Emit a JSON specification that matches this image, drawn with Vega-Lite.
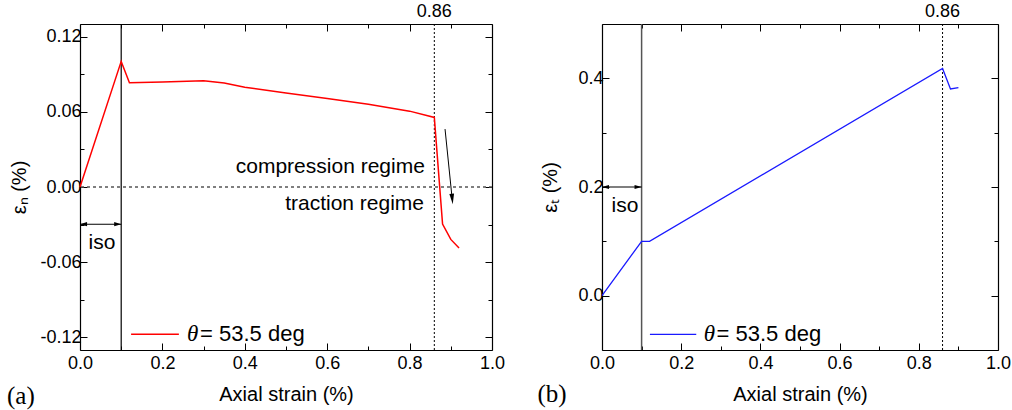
{
  "$schema": "https://vega.github.io/schema/vega-lite/v6.json",
  "padding": {"left": 6, "top": 2, "right": 5, "bottom": 2},
  "bounds": "flush",
  "spacing": 110,
  "config": {
    "view": {"stroke": null},
    "font": "Liberation Sans",
    "axis": {
      "domainColor": "black", "domainWidth": 1.2, "tickColor": "black", "tickWidth": 1,
      "labelFont": "Liberation Sans", "labelFontSize": 18, "labelColor": "black",
      "titleFont": "Liberation Sans", "titleFontSize": 20, "titleFontWeight": "normal", "titleColor": "black",
      "grid": false, "labelFlush": false, "labelOverlap": false, "labelPadding": 6
    }
  },
  "datasets": {
    "series_a": [
      {"x": 0, "y": 0}, {"x": 0.1, "y": 0.1002}, {"x": 0.12, "y": 0.0832}, {"x": 0.2, "y": 0.0838},
      {"x": 0.3, "y": 0.0848}, {"x": 0.35, "y": 0.083}, {"x": 0.4, "y": 0.0795}, {"x": 0.5, "y": 0.075},
      {"x": 0.6, "y": 0.0705}, {"x": 0.7, "y": 0.066}, {"x": 0.8, "y": 0.0605}, {"x": 0.86, "y": 0.0555},
      {"x": 0.88, "y": -0.0295}, {"x": 0.9, "y": -0.0418}, {"x": 0.92, "y": -0.0486}
    ],
    "series_b": [
      {"x": 0, "y": 0}, {"x": 0.1, "y": 0.1}, {"x": 0.12, "y": 0.1}, {"x": 0.86, "y": 0.418},
      {"x": 0.88, "y": 0.3805}, {"x": 0.9, "y": 0.383}
    ]
  },
  "hconcat": [
    {
      "width": 412, "height": 326,
      "resolve": {"axis": {"x": "independent", "y": "independent"}},
      "layer": [
        {
          "data": {"values": [{"x": 0.1}]},
          "mark": {"type": "rule", "color": "black", "strokeWidth": 1.2},
          "encoding": {"x": {"field": "x", "type": "quantitative", "axis": null}}
        },
        {
          "data": {"values": [{"x": 0.86}]},
          "mark": {"type": "rule", "color": "black", "strokeWidth": 1, "strokeDash": [2, 2]},
          "encoding": {"x": {"field": "x", "type": "quantitative", "axis": null}}
        },
        {
          "data": {"values": [{"y": 0}]},
          "mark": {"type": "rule", "color": "#555555", "strokeWidth": 1.3, "strokeDash": [3, 3]},
          "encoding": {"y": {"field": "y", "type": "quantitative", "axis": null}}
        },
        {
          "data": {"name": "series_a"},
          "mark": {"type": "line", "color": "#ff0000", "strokeWidth": 1.5},
          "encoding": {
            "x": {"field": "x", "type": "quantitative", "scale": {"domain": [0, 1], "nice": false, "zero": false},
              "axis": {"orient": "bottom", "title": "Axial strain (%)", "titlePadding": 9, "labelPadding": 11,
                "labelFontSize": 18, "titleFontSize": 20,
                "values": [0, 0.1, 0.2, 0.3, 0.4, 0.5, 0.6, 0.7, 0.8, 0.9, 1],
                "tickSize": {"condition": {"test": "round(datum.value*10) % 2 === 0", "value": -7}, "value": -4},
                "labelExpr": "round(datum.value*10) % 2 === 0 ? format(datum.value, '.1f') : ''"}},
            "y": {"field": "y", "type": "quantitative", "scale": {"domain": [-0.13, 0.13], "nice": false, "zero": false},
              "axis": {"orient": "left", "title": "εₙ (%)", "titlePadding": 10,
                "labelFontSize": 18, "titleFontSize": 20,
                "values": [-0.12, -0.09, -0.06, -0.03, 0, 0.03, 0.06, 0.09, 0.12],
                "tickSize": {"condition": {"test": "round(datum.value*100/3) % 2 === 0", "value": -7}, "value": -4},
                "labelExpr": "round(datum.value*100/3) % 2 === 0 ? replace(format(datum.value, '.2f'), '\u2212', '-') : ''"}}
          }
        },
        {
          "data": {"name": "series_a"},
          "mark": {"type": "line", "opacity": 0},
          "encoding": {
            "x": {"field": "x", "type": "quantitative",
              "axis": {"orient": "top", "title": null, "labels": false,
                "values": [0, 0.1, 0.2, 0.3, 0.4, 0.5, 0.6, 0.7, 0.8, 0.9, 1],
                "tickSize": {"condition": {"test": "round(datum.value*10) % 2 === 0", "value": -7}, "value": -4}}},
            "y": {"field": "y", "type": "quantitative",
              "axis": {"orient": "right", "title": null, "labels": false,
                "values": [-0.12, -0.09, -0.06, -0.03, 0, 0.03, 0.06, 0.09, 0.12],
                "tickSize": {"condition": {"test": "round(datum.value*100/3) % 2 === 0", "value": -7}, "value": -4}}}
          }
        },
        {
          "data": {"values": [{"x": 0, "x2": 0.1, "y": -0.0297}]},
          "mark": {"type": "rule", "color": "black", "strokeWidth": 1.2},
          "encoding": {
            "x": {"field": "x", "type": "quantitative", "axis": null},
            "x2": {"field": "x2"},
            "y": {"field": "y", "type": "quantitative", "axis": null}
          }
        },
        {
          "data": {"values": [{"x": 0.0085, "y": -0.0297, "dir": "left"}, {"x": 0.0915, "y": -0.0297, "dir": "right"}]},
          "mark": {"type": "point", "filled": true, "color": "black", "opacity": 1, "size": 50},
          "encoding": {
            "x": {"field": "x", "type": "quantitative", "axis": null},
            "y": {"field": "y", "type": "quantitative", "axis": null},
            "shape": {"field": "dir", "type": "nominal", "legend": null,
              "scale": {"domain": ["left", "right"], "range": ["M-1,0L1,-0.6L1,0.6Z", "M1,0L-1,-0.6L-1,0.6Z"]}}
          }
        },
        {
          "data": {"values": [{"x": 0.886, "y": 0.0462}, {"x": 0.9035, "y": -0.010}]},
          "mark": {"type": "line", "color": "black", "strokeWidth": 1},
          "encoding": {
            "x": {"field": "x", "type": "quantitative", "axis": null},
            "y": {"field": "y", "type": "quantitative", "axis": null}
          }
        },
        {
          "data": {"values": [{"x": 0.9035, "y": -0.0095}]},
          "mark": {"type": "point", "filled": true, "color": "black", "opacity": 1, "size": 110, "shape": "M0,1L-0.45,-1L0.45,-1Z", "angle": 354.5},
          "encoding": {
            "x": {"field": "x", "type": "quantitative", "axis": null},
            "y": {"field": "y", "type": "quantitative", "axis": null}
          }
        },
        {
          "data": {"values": [{"x": 0.837, "y": 0.016, "t": "compression regime"}, {"x": 0.835, "y": -0.0133, "t": "traction regime"}]},
          "mark": {"type": "text", "align": "right", "baseline": "middle", "font": "Liberation Sans", "fontSize": 21, "color": "black"},
          "encoding": {
            "x": {"field": "x", "type": "quantitative", "axis": null},
            "y": {"field": "y", "type": "quantitative", "axis": null},
            "text": {"field": "t"}
          }
        },
        {
          "data": {"values": [{"x": 0.0534, "y": -0.0444, "t": "iso"}]},
          "mark": {"type": "text", "align": "center", "baseline": "middle", "font": "Liberation Sans", "fontSize": 21, "color": "black"},
          "encoding": {
            "x": {"field": "x", "type": "quantitative", "axis": null},
            "y": {"field": "y", "type": "quantitative", "axis": null},
            "text": {"field": "t"}
          }
        },
        {
          "data": {"values": [{"x": 0.86, "y": 0.1396, "t": "0.86"}]},
          "mark": {"type": "text", "align": "center", "baseline": "middle", "font": "Liberation Sans", "fontSize": 18, "color": "black"},
          "encoding": {
            "x": {"field": "x", "type": "quantitative", "axis": null},
            "y": {"field": "y", "type": "quantitative", "axis": null},
            "text": {"field": "t"}
          }
        },
        {
          "data": {"values": [{"x": -0.1772, "y": -0.1667, "t": "(a)"}]},
          "mark": {"type": "text", "align": "left", "baseline": "middle", "font": "Liberation Serif", "fontSize": 25, "color": "black"},
          "encoding": {
            "x": {"field": "x", "type": "quantitative", "axis": null},
            "y": {"field": "y", "type": "quantitative", "axis": null},
            "text": {"field": "t"}
          }
        },
        {
          "data": {"values": [{"x": 0.124, "y": -0.1175}, {"x": 0.24, "y": -0.1175}]},
          "mark": {"type": "line", "color": "#ff0000", "strokeWidth": 1.5},
          "encoding": {
            "x": {"field": "x", "type": "quantitative", "axis": null},
            "y": {"field": "y", "type": "quantitative", "axis": null}
          }
        },
        {
          "data": {"values": [{"x": 0.2597, "y": -0.1175, "t": "θ"}]},
          "mark": {"type": "text", "align": "left", "baseline": "middle", "font": "Liberation Serif", "fontStyle": "italic", "fontSize": 23, "color": "black"},
          "encoding": {
            "x": {"field": "x", "type": "quantitative", "axis": null},
            "y": {"field": "y", "type": "quantitative", "axis": null},
            "text": {"field": "t"}
          }
        },
        {
          "data": {"values": [{"x": 0.2913, "y": -0.1175, "t": "= 53.5 deg"}]},
          "mark": {"type": "text", "align": "left", "baseline": "middle", "font": "Liberation Sans", "fontSize": 22, "color": "black"},
          "encoding": {
            "x": {"field": "x", "type": "quantitative", "axis": null},
            "y": {"field": "y", "type": "quantitative", "axis": null},
            "text": {"field": "t"}
          }
        }
      ]
    },
    {
      "width": 396, "height": 326,
      "resolve": {"axis": {"x": "independent", "y": "independent"}},
      "layer": [
        {
          "data": {"values": [{"x": 0.1}]},
          "mark": {"type": "rule", "color": "#555555", "strokeWidth": 1.5},
          "encoding": {"x": {"field": "x", "type": "quantitative", "axis": null}}
        },
        {
          "data": {"values": [{"x": 0.86}]},
          "mark": {"type": "rule", "color": "black", "strokeWidth": 1, "strokeDash": [2, 2]},
          "encoding": {"x": {"field": "x", "type": "quantitative", "axis": null}}
        },
        {
          "data": {"name": "series_b"},
          "mark": {"type": "line", "color": "#1a1aff", "strokeWidth": 1.3},
          "encoding": {
            "x": {"field": "x", "type": "quantitative", "scale": {"domain": [0, 1], "nice": false, "zero": false},
              "axis": {"orient": "bottom", "title": "Axial strain (%)", "titlePadding": 9, "labelPadding": 11,
                "labelFontSize": 18, "titleFontSize": 20,
                "values": [0, 0.1, 0.2, 0.3, 0.4, 0.5, 0.6, 0.7, 0.8, 0.9, 1],
                "tickSize": {"condition": {"test": "round(datum.value*10) % 2 === 0", "value": -7}, "value": -4},
                "labelExpr": "round(datum.value*10) % 2 === 0 ? format(datum.value, '.1f') : ''"}},
            "y": {"field": "y", "type": "quantitative", "scale": {"domain": [-0.1, 0.5], "nice": false, "zero": false},
              "axis": {"orient": "left", "title": "εₜ (%)", "titlePadding": 17,
                "labelFontSize": 18, "titleFontSize": 20,
                "values": [0, 0.1, 0.2, 0.3, 0.4],
                "tickSize": {"condition": {"test": "round(datum.value*10) % 2 === 0", "value": -7}, "value": -4},
                "labelExpr": "round(datum.value*10) % 2 === 0 ? format(datum.value, '.1f') : ''"}}
          }
        },
        {
          "data": {"name": "series_b"},
          "mark": {"type": "line", "opacity": 0},
          "encoding": {
            "x": {"field": "x", "type": "quantitative",
              "axis": {"orient": "top", "title": null, "labels": false,
                "values": [0, 0.1, 0.2, 0.3, 0.4, 0.5, 0.6, 0.7, 0.8, 0.9, 1],
                "tickSize": {"condition": {"test": "round(datum.value*10) % 2 === 0", "value": -7}, "value": -4}}},
            "y": {"field": "y", "type": "quantitative",
              "axis": {"orient": "right", "title": null, "labels": false,
                "values": [0, 0.1, 0.2, 0.3, 0.4],
                "tickSize": {"condition": {"test": "round(datum.value*10) % 2 === 0", "value": -7}, "value": -4}}}
          }
        },
        {
          "data": {"values": [{"x": 0, "x2": 0.1, "y": 0.2}]},
          "mark": {"type": "rule", "color": "black", "strokeWidth": 1.2},
          "encoding": {
            "x": {"field": "x", "type": "quantitative", "axis": null},
            "x2": {"field": "x2"},
            "y": {"field": "y", "type": "quantitative", "axis": null}
          }
        },
        {
          "data": {"values": [{"x": 0.0088, "y": 0.2, "dir": "left"}, {"x": 0.0912, "y": 0.2, "dir": "right"}]},
          "mark": {"type": "point", "filled": true, "color": "black", "opacity": 1, "size": 50},
          "encoding": {
            "x": {"field": "x", "type": "quantitative", "axis": null},
            "y": {"field": "y", "type": "quantitative", "axis": null},
            "shape": {"field": "dir", "type": "nominal", "legend": null,
              "scale": {"domain": ["left", "right"], "range": ["M-1,0L1,-0.6L1,0.6Z", "M1,0L-1,-0.6L-1,0.6Z"]}}
          }
        },
        {
          "data": {"values": [{"x": 0.058, "y": 0.165, "t": "iso"}]},
          "mark": {"type": "text", "align": "center", "baseline": "middle", "font": "Liberation Sans", "fontSize": 21, "color": "black"},
          "encoding": {
            "x": {"field": "x", "type": "quantitative", "axis": null},
            "y": {"field": "y", "type": "quantitative", "axis": null},
            "text": {"field": "t"}
          }
        },
        {
          "data": {"values": [{"x": 0.86, "y": 0.5221, "t": "0.86"}]},
          "mark": {"type": "text", "align": "center", "baseline": "middle", "font": "Liberation Sans", "fontSize": 18, "color": "black"},
          "encoding": {
            "x": {"field": "x", "type": "quantitative", "axis": null},
            "y": {"field": "y", "type": "quantitative", "axis": null},
            "text": {"field": "t"}
          }
        },
        {
          "data": {"values": [{"x": -0.163, "y": -0.181, "t": "(b)"}]},
          "mark": {"type": "text", "align": "left", "baseline": "middle", "font": "Liberation Serif", "fontSize": 25, "color": "black"},
          "encoding": {
            "x": {"field": "x", "type": "quantitative", "axis": null},
            "y": {"field": "y", "type": "quantitative", "axis": null},
            "text": {"field": "t"}
          }
        },
        {
          "data": {"values": [{"x": 0.121, "y": -0.0711}, {"x": 0.238, "y": -0.0711}]},
          "mark": {"type": "line", "color": "#1a1aff", "strokeWidth": 1.3},
          "encoding": {
            "x": {"field": "x", "type": "quantitative", "axis": null},
            "y": {"field": "y", "type": "quantitative", "axis": null}
          }
        },
        {
          "data": {"values": [{"x": 0.257, "y": -0.0711, "t": "θ"}]},
          "mark": {"type": "text", "align": "left", "baseline": "middle", "font": "Liberation Serif", "fontStyle": "italic", "fontSize": 23, "color": "black"},
          "encoding": {
            "x": {"field": "x", "type": "quantitative", "axis": null},
            "y": {"field": "y", "type": "quantitative", "axis": null},
            "text": {"field": "t"}
          }
        },
        {
          "data": {"values": [{"x": 0.2893, "y": -0.0711, "t": "= 53.5 deg"}]},
          "mark": {"type": "text", "align": "left", "baseline": "middle", "font": "Liberation Sans", "fontSize": 22, "color": "black"},
          "encoding": {
            "x": {"field": "x", "type": "quantitative", "axis": null},
            "y": {"field": "y", "type": "quantitative", "axis": null},
            "text": {"field": "t"}
          }
        }
      ]
    }
  ]
}
